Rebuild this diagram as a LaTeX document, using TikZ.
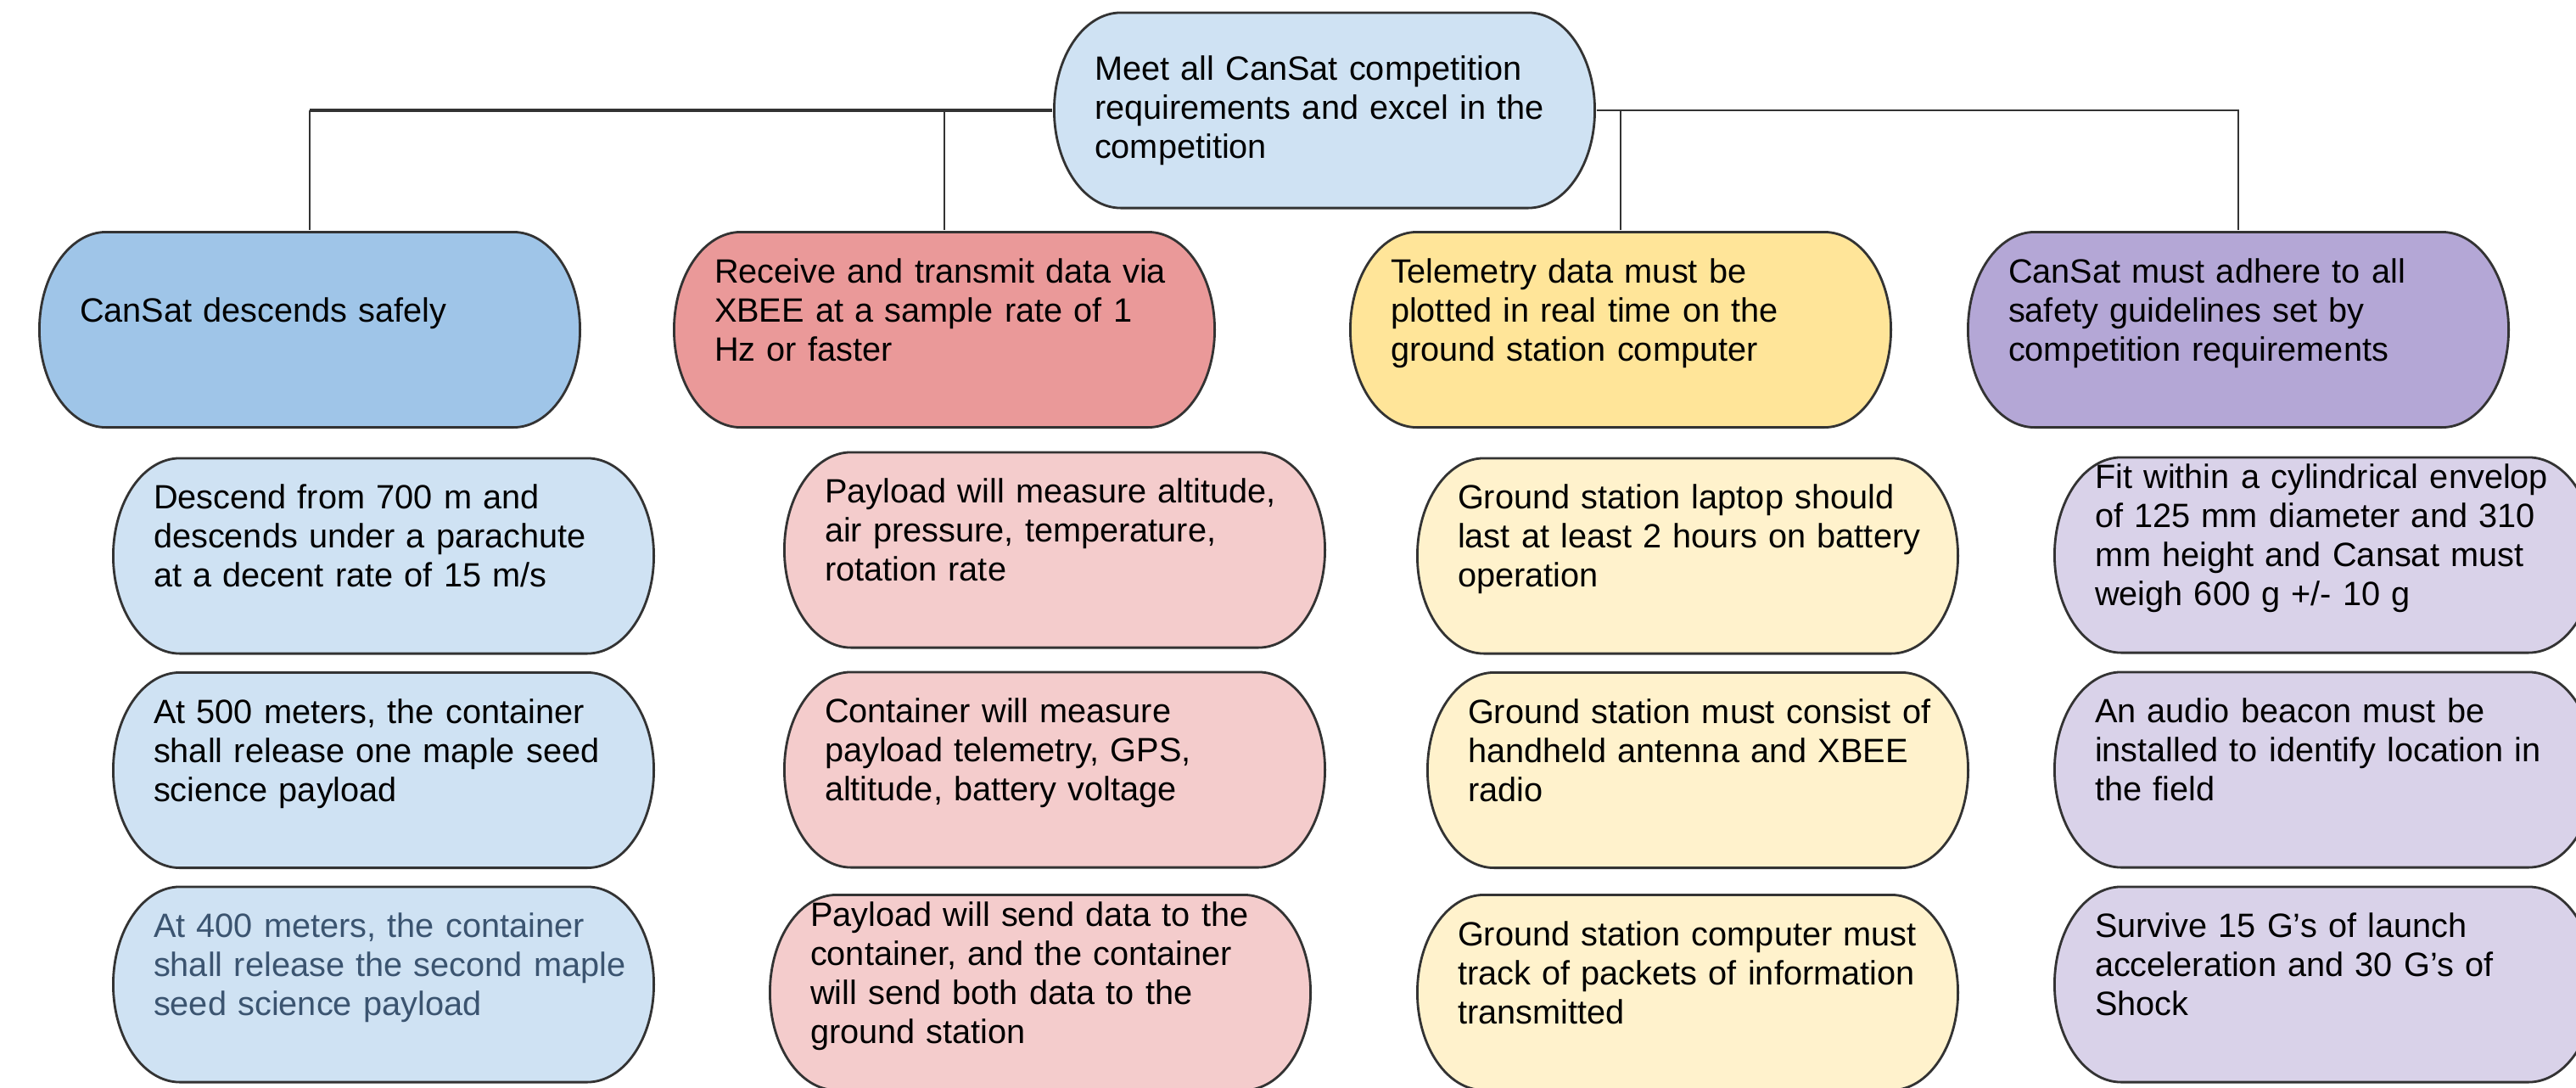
\documentclass[tikz,border=0pt]{standalone}
\usepackage{fontspec}
\setmainfont{Liberation Sans}
\usepackage{tikz}
\usetikzlibrary{positioning}

% box colours
\definecolor{goalblue}{HTML}{CFE2F3}
\definecolor{hdblue}{HTML}{9FC5E8}
\definecolor{hdred}{HTML}{EA9999}
\definecolor{hdyellow}{HTML}{FFE599}
\definecolor{hdpurple}{HTML}{B4A7D6}
\definecolor{kidblue}{HTML}{CFE2F3}
\definecolor{kidred}{HTML}{F4CCCC}
\definecolor{kidyellow}{HTML}{FFF2CC}
\definecolor{kidpurple}{HTML}{D9D2E9}
\definecolor{linegray}{HTML}{333333}
\definecolor{slatetext}{HTML}{3B5470}

\begin{document}
\begin{tikzpicture}[
    pill/.style={rectangle, inner xsep=0.49cm, inner ysep=0pt,
      text width=5.42cm, align=left, minimum height=2.33cm,
      font=\fontsize{11.3}{13.1}\selectfont,
      execute at begin node={\rightskip=0pt plus 1fil minus 1cm\relax\hyphenpenalty=10000\relax},
      path picture={
        \path[draw=linegray, line width=0.8pt, fill=#1]
          ([xshift=0.8cm, yshift=-0.4pt]path picture bounding box.north west)
          -- ([xshift=-0.8cm, yshift=-0.4pt]path picture bounding box.north east)
          arc[start angle=90, end angle=-90, x radius=0.8cm-0.4pt, y radius=1.165cm-0.4pt]
          -- ([xshift=0.8cm, yshift=0.4pt]path picture bounding box.south west)
          arc[start angle=270, end angle=90, x radius=0.8cm-0.4pt, y radius=1.165cm-0.4pt]
          -- cycle;
      }},
    lift/.style={execute at end node={\rule[-0.47cm]{0pt}{0.47cm}}},
    link/.style={draw=linegray, line width=0.6pt},
    boldlink/.style={draw=linegray, line width=1.3pt}
  ]
  \clip (0,0) rectangle (30.36,-12.81);   % page frame

  % goal at the top
  \node (goal) [pill=goalblue] at (15.61,-1.30) {Meet all CanSat competition\\requirements and excel in the\\competition};

  % the four headers
  \node (safe) [pill=hdblue, lift] at (3.65,-3.885) {CanSat descends safely};
  \node (xbee) [pill=hdred, lift] at (11.13,-3.885) {Receive and transmit data via\\XBEE at a sample rate of 1\\Hz or faster};
  \node (plot) [pill=hdyellow, lift] at (19.10,-3.885) {Telemetry data must be\\plotted in real time on the\\ground station computer};
  \node (rules) [pill=hdpurple, lift] at (26.38,-3.885) {CanSat must adhere to all\\safety guidelines set by\\competition requirements};

  % column 1: descent
  \node (drop) [pill=kidblue, lift] at (4.52,-6.55) {Descend from 700 m and\\descends under a parachute\\at a decent rate of 15 m/s};
  \node (first) [pill=kidblue, lift] at (4.52,-9.075) {At 500 meters, the container\\shall release one maple seed\\science payload};
  \node (second) [pill=kidblue, lift, text=slatetext] at (4.52,-11.60) {At 400 meters, the container\\shall release the second maple\\seed science payload};

  % column 2: data
  \node (sensors) [pill=kidred, lift] at (12.43,-6.48) {Payload will measure altitude,\\air pressure, temperature,\\rotation rate};
  \node (container) [pill=kidred, lift] at (12.43,-9.07) {Container will measure\\payload telemetry, GPS,\\altitude, battery voltage};
  \node (relay) [pill=kidred, lift] at (12.26,-11.695) {Payload will send data to the\\container, and the container\\will send both data to the\\ground station};

  % column 3: ground station
  \node (laptop) [pill=kidyellow, lift] at (19.89,-6.55) {Ground station laptop should\\last at least 2 hours on battery\\operation};
  \node (antenna) [pill=kidyellow, lift] at (20.01,-9.075) {Ground station must consist of\\handheld antenna and XBEE\\radio};
  \node (packets) [pill=kidyellow, lift] at (19.89,-11.695) {Ground station computer must\\track of packets of information\\transmitted};

  % column 4: safety
  \node (envelope) [pill=kidpurple, lift] at (27.40,-6.54) {Fit within a cylindrical envelop\\of 125 mm diameter and 310\\mm height and Cansat must\\weigh 600 g +/- 10 g};
  \node (beacon) [pill=kidpurple, lift] at (27.40,-9.07) {An audio beacon must be\\installed to identify location in\\the field};
  \node (shock) [pill=kidpurple, lift] at (27.40,-11.60) {Survive 15 G's of launch\\acceleration and 30 G's of\\Shock};

  % connectors from the goal
  \draw [boldlink] (goal.west) -- (goal.west -| safe.north);
  \draw [link] (goal.west -| safe.north) -- (safe.north);
  \draw [link] (goal.west -| xbee.north) -- (xbee.north);
  \draw [link] (goal.east) -| (rules.north);
  \draw [link] (goal.east -| plot.north) -- (plot.north);
\end{tikzpicture}
\end{document}
